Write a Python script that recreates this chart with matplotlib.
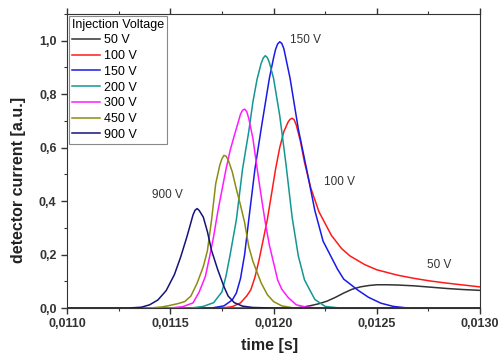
import matplotlib
matplotlib.use("Agg")
import matplotlib.pyplot as plt
from matplotlib.ticker import MultipleLocator, FuncFormatter

plt.rcParams['font.family'] = ['Liberation Sans', 'DejaVu Sans']

# (time in s, current in a.u.)
t_50 = [0.0110, 0.01210, 0.01214, 0.01218, 0.01222, 0.01226, 0.01230, 0.01234, 0.01238,
        0.01242, 0.01246, 0.01250, 0.01255, 0.01260, 0.01268, 0.01276, 0.01284, 0.01292, 0.01300]
v_50 = [0.0, 0.0, 0.003, 0.009, 0.016, 0.026, 0.040, 0.056, 0.070,
        0.079, 0.084, 0.087, 0.087, 0.086, 0.083, 0.078, 0.073, 0.069, 0.066]

t_100 = [0.0110, 0.01175, 0.01180, 0.01184, 0.01187, 0.01189, 0.01191, 0.01193, 0.01195, 0.01197,
         0.01199, 0.01201, 0.01203, 0.01205, 0.01207, 0.01208, 0.01209, 0.01210, 0.01211,
         0.01213, 0.01215, 0.01218, 0.01222, 0.01228, 0.01233, 0.01237, 0.01244, 0.01250,
         0.01260, 0.01268, 0.01276, 0.01284, 0.01292, 0.01300]
v_100 = [0.0, 0.0, 0.005, 0.019, 0.045, 0.068, 0.115, 0.180, 0.255, 0.331,
         0.425, 0.520, 0.600, 0.660, 0.695, 0.706, 0.710, 0.704, 0.685,
         0.625, 0.545, 0.450, 0.360, 0.272, 0.222, 0.195, 0.163, 0.143,
         0.123, 0.111, 0.101, 0.093, 0.086, 0.079]

t_150 = [0.0110, 0.01170, 0.01176, 0.01180, 0.01182, 0.01184, 0.01186, 0.01188, 0.01191,
         0.01194, 0.01198, 0.01200, 0.01201, 0.01202, 0.01203, 0.01204, 0.01205, 0.01208,
         0.01212, 0.01216, 0.01220, 0.01224, 0.01228, 0.01231, 0.01234, 0.01241, 0.01246,
         0.01252, 0.01258, 0.01265, 0.0130]
v_150 = [0.0, 0.0, 0.008, 0.030, 0.056, 0.110, 0.200, 0.330, 0.520,
         0.670, 0.860, 0.935, 0.968, 0.988, 0.996, 0.990, 0.970, 0.860,
         0.670, 0.520, 0.365, 0.250, 0.190, 0.145, 0.108, 0.066, 0.040,
         0.018, 0.006, 0.0, 0.0]

t_200 = [0.0110, 0.01160, 0.01166, 0.01171, 0.01175, 0.01177, 0.01179, 0.01182, 0.01185,
         0.01188, 0.01190, 0.01192, 0.01194, 0.01195, 0.01196, 0.01197, 0.01198, 0.01200,
         0.01203, 0.01206, 0.01209, 0.01212, 0.01215, 0.01220, 0.01225, 0.01232, 0.0130]
v_200 = [0.0, 0.0, 0.006, 0.020, 0.060, 0.120, 0.200, 0.330, 0.520,
         0.660, 0.770, 0.855, 0.915, 0.935, 0.944, 0.937, 0.918, 0.860,
         0.720, 0.540, 0.340, 0.195, 0.105, 0.032, 0.006, 0.0, 0.0]

t_300 = [0.0110, 0.01150, 0.01156, 0.01161, 0.01164, 0.01167, 0.01169, 0.01171, 0.01173,
         0.01175, 0.01177, 0.01179, 0.01181, 0.01183, 0.01184, 0.01185, 0.01186, 0.01187,
         0.01188, 0.01190, 0.01192, 0.01194, 0.01196, 0.01198, 0.01200, 0.01202, 0.01204,
         0.01207, 0.01211, 0.01216, 0.01222, 0.0130]
v_300 = [0.0, 0.0, 0.005, 0.019, 0.060, 0.118, 0.190, 0.268, 0.360,
         0.440, 0.520, 0.590, 0.645, 0.698, 0.725, 0.740, 0.744, 0.735,
         0.710, 0.635, 0.525, 0.420, 0.320, 0.235, 0.170, 0.105, 0.070,
         0.040, 0.012, 0.003, 0.0, 0.0]

t_450 = [0.0110, 0.01140, 0.01146, 0.01150, 0.01154, 0.01157, 0.01160, 0.01163, 0.01166,
         0.01168, 0.01170, 0.01172, 0.01174, 0.01175, 0.01176, 0.01177, 0.01178, 0.01180,
         0.01182, 0.01184, 0.01186, 0.01188, 0.01190, 0.01194, 0.01197, 0.01200, 0.01204,
         0.01210, 0.0130]
v_450 = [0.0, 0.0, 0.004, 0.010, 0.017, 0.024, 0.045, 0.093, 0.155,
         0.215, 0.330, 0.465, 0.535, 0.558, 0.571, 0.568, 0.555, 0.510,
         0.445, 0.385, 0.320, 0.230, 0.175, 0.094, 0.050, 0.024, 0.008,
         0.0, 0.0]

t_900 = [0.0110, 0.01130, 0.01136, 0.01140, 0.01144, 0.01148, 0.01152, 0.01155, 0.01158,
         0.01160, 0.01161, 0.01162, 0.01163, 0.01164, 0.01166, 0.01168, 0.01170, 0.01173,
         0.01176, 0.01178, 0.01181, 0.01185, 0.01190, 0.01200, 0.0130]
v_900 = [0.0, 0.0, 0.003, 0.012, 0.030, 0.065, 0.125, 0.190, 0.265,
         0.320, 0.348, 0.366, 0.372, 0.365, 0.340, 0.285, 0.215, 0.143,
         0.080, 0.045, 0.020, 0.007, 0.002, 0.0, 0.0]

labels = ["50 V", "100 V", "150 V", "200 V", "300 V", "450 V", "900 V"]
colors = ["#333333", "#ff1a1a", "#1a1ae6", "#149696", "#ff1aff", "#8c8c14", "#141478"]
series = [(t_50, v_50), (t_100, v_100), (t_150, v_150), (t_200, v_200),
          (t_300, v_300), (t_450, v_450), (t_900, v_900)]

# curve annotations: text, time, current
notes = [("150 V", 0.012155, 1.004), ("100 V", 0.01232, 0.47),
         ("50 V", 0.012803, 0.162), ("900 V", 0.011488, 0.421)]

fig = plt.figure(figsize=(4.99, 3.56), dpi=100)
ax = fig.add_axes([0.1343, 0.1348, 0.8277, 0.8259])

for (t, v), lab, c in zip(series, labels, colors):
    ax.plot(t, v, color=c, lw=1.1, label=lab)

for txt, x, y in notes:
    ax.text(x, y, txt, fontsize=8.5, color="#333333", ha="center", va="center")

ax.set_xlim(0.0110, 0.0130)
ax.set_ylim(0.0, 1.1)
ax.xaxis.set_major_locator(MultipleLocator(0.0005))
ax.xaxis.set_minor_locator(MultipleLocator(0.00025))
ax.yaxis.set_major_locator(MultipleLocator(0.2))
ax.yaxis.set_minor_locator(MultipleLocator(0.1))
ax.xaxis.set_major_formatter(FuncFormatter(lambda x, p: f"{x:.4f}".replace(".", ",")))
ax.yaxis.set_major_formatter(FuncFormatter(lambda x, p: f"{x:.1f}".replace(".", ",")))
ax.tick_params(which="both", direction="out", top=True, right=False, color="#333333")
ax.tick_params(which="major", length=4, width=1)
ax.tick_params(which="minor", length=2.5, width=0.8)
for lab in ax.get_xticklabels() + ax.get_yticklabels():
    lab.set_fontweight("bold")
    lab.set_fontsize(9)
    lab.set_color("#333333")
for s in ax.spines.values():
    s.set_color("#333333")

ax.set_xlabel("time [s]", fontsize=11.5, fontweight="bold", color="#222222")
ax.set_ylabel("detector current [a.u.]", fontsize=11.5, fontweight="bold", color="#222222")
ax.xaxis.set_label_coords(0.49, -0.103)
ax.yaxis.set_label_coords(-0.099, 0.434)

leg = ax.legend(title="Injection Voltage", loc="upper left", fontsize=9, title_fontsize=9,
                handlelength=2.3, handletextpad=0.3, labelspacing=0.3, borderpad=0.22,
                borderaxespad=0.15, fancybox=False, framealpha=1)
leg._legend_box.align = "left"
leg.get_frame().set_edgecolor("#888888")
leg.get_frame().set_linewidth(0.8)

fig.savefig("out.png", dpi=100)
